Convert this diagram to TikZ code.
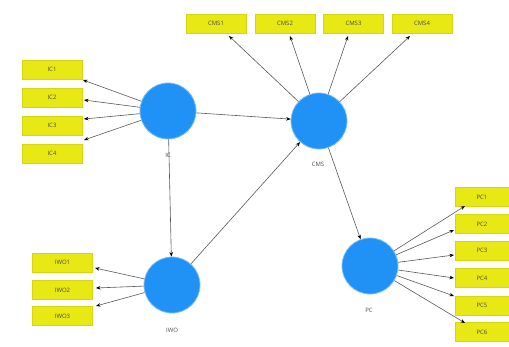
\documentclass[tikz,border=0pt]{standalone}
\usepackage{fontspec}
\setmainfont{Open Sans}
\usetikzlibrary{arrows.meta}
\definecolor{lvblue}{RGB}{33,146,245}
\definecolor{indyel}{RGB}{232,232,20}
\begin{document}
\begin{tikzpicture}[x=1pt,y=-1pt,
  ind/.style={draw=indyel!92!black, line width=0.3pt, fill=indyel, minimum width=60pt, minimum height=19pt, inner sep=0pt, font=\fontsize{6}{7}\selectfont, text=black!70},
  lv/.style={circle, fill=lvblue, draw=lvblue!60!white, line width=0.8pt, minimum size=56pt, inner sep=0pt},
  lab/.style={font=\fontsize{6}{7}\selectfont, text=black!70},
  arr/.style={draw=black!65, line width=0.6pt, -{Stealth[length=4.5pt,width=3.5pt,black]}}]
\useasboundingbox (0,0) rectangle (509,347);
% latent variables
\node[lv] (IC) at (168,111) {};
\node[lv] (CMS) at (319,121) {};
\node[lv] (IWO) at (172,285) {};
\node[lv] (PC) at (370,266) {};
\node[lab] (ICl) at (168,155) {IC};
\node[lab] (CMSl) at (318,164) {CMS};
\node[lab] (IWOl) at (172,330) {IWO};
\node[lab] (PCl) at (369,310) {PC};
% CMS indicators
\node[ind] (CMS1) at (216,23.5) {CMS1};
\node[ind] (CMS2) at (285,23.5) {CMS2};
\node[ind] (CMS3) at (353.5,23.5) {CMS3};
\node[ind] (CMS4) at (422,23.5) {CMS4};
% IC indicators
\node[ind] (IC1) at (52,69.5) {IC1};
\node[ind] (IC2) at (52,97.5) {IC2};
\node[ind] (IC3) at (52,125.5) {IC3};
\node[ind] (IC4) at (52,153.5) {IC4};
% IWO indicators
\node[ind] (IWO1) at (62.5,262.5) {IWO1};
\node[ind] (IWO2) at (62.5,290) {IWO2};
\node[ind] (IWO3) at (62.5,316) {IWO3};
% PC indicators
\node[ind, minimum width=54pt] (PC1) at (482,197) {PC1};
\node[ind, minimum width=54pt] (PC2) at (482,224) {PC2};
\node[ind, minimum width=54pt] (PC3) at (482,250.5) {PC3};
\node[ind, minimum width=54pt] (PC4) at (482,278) {PC4};
\node[ind, minimum width=54pt] (PC5) at (482,305.5) {PC5};
\node[ind, minimum width=54pt] (PC6) at (482,332) {PC6};
% coordinates for arrow tips
\coordinate (tCMS1) at (229,36);
\coordinate (tCMS2) at (290,36);
\coordinate (tCMS3) at (348,36);
\coordinate (tCMS4) at (410,36);
\coordinate (tIC1) at (83,80);
\coordinate (tIC2) at (84,100);
\coordinate (tIC3) at (84,119);
\coordinate (tIC4) at (84,140);
\coordinate (tIWO1) at (95,268);
\coordinate (tIWO2) at (96,288);
\coordinate (tIWO3) at (96,306);
\coordinate (tPC1) at (465,206);
\coordinate (tPC2) at (454,230);
\coordinate (tPC3) at (454,255);
\coordinate (tPC4) at (454,278);
\coordinate (tPC5) at (454,296);
\coordinate (tPC6) at (465,323);
% structural paths
\draw[arr] (IC) -- (CMS);
\draw[arr] (IC) -- (IWO);
\draw[arr] (IWO) -- (CMS);
\draw[arr] (CMS) -- (PC);
% outer loadings
\foreach \i in {1,2,3,4} \draw[arr] (CMS) -- (tCMS\i);
\foreach \i in {1,2,3,4} \draw[arr] (IC) -- (tIC\i);
\foreach \i in {1,2,3} \draw[arr] (IWO) -- (tIWO\i);
\foreach \i in {1,...,6} \draw[arr] (PC) -- (tPC\i);
\end{tikzpicture}
\end{document}
